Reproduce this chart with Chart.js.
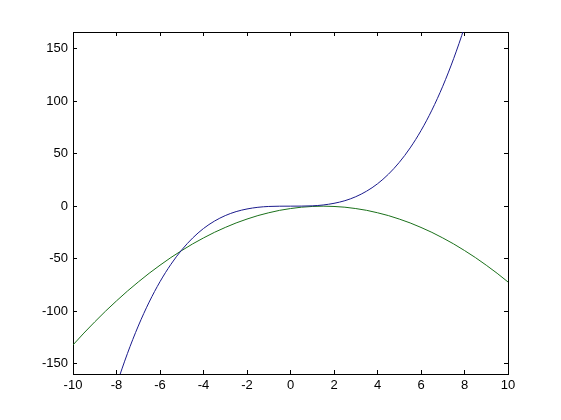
<!DOCTYPE html>
<html>
<head>
<meta charset="utf-8">
<script src="https://cdn.jsdelivr.net/npm/chart.js@4/dist/chart.umd.min.js"></script>
<style>
    html, body { margin: 0; padding: 0; background: #fff; }
    #box { width: 561px; height: 420px; }
</style>
</head>
<body>
<div id="box"><canvas id="plot"></canvas></div>
<script>
let xValues = [-10, -9.5, -9, -8.5, -8, -7.5, -7, -6.5, -6, -5.5, -5, -4.5, -4, -3.5, -3, -2.5, -2, -1.5, -1, -0.5,
    0, 0.5, 1, 1.5, 2, 2.5, 3, 3.5, 4, 4.5, 5, 5.5, 6, 6.5, 7, 7.5, 8, 8.5, 9, 9.5, 10];

// blaue Kurve (geht oben und unten aus dem Bild)
let blueValues = [-333, -286, -243, -205, -170.7, -140.6, -114.3, -91.5, -72, -55.5, -41.7, -30.4, -21.3, -14.3, -9, -5.2, -2.7, -1.1, -0.3, -0.04,
    0, 0.04, 0.3, 1.1, 2.7, 5.2, 9, 14.3, 21.3, 30.4, 41.7, 55.5, 72, 91.5, 114.3, 140.6, 170.7, 205, 243, 286, 333];

// gruene Kurve
let greenValues = [-132.3, -121, -110.3, -100, -90.3, -81, -72.3, -64, -56.3, -49, -42.3, -36, -30.3, -25, -20.3, -16, -12.3, -9, -6.3, -4,
    -2.3, -1, -0.3, 0, -0.3, -1, -2.3, -4, -6.3, -9, -12.3, -16, -20.3, -25, -30.3, -36, -42.3, -49, -56.3, -64, -72.3];

let xTicks = { min: -10, max: 10, step: 2 };
let yTicks = { min: -160, max: 166, step: 50 };


function points(ys) {
    let out = [];
    for (let i = 0; i < xValues.length; i++) {
        out.push({ x: xValues[i], y: ys[i] });
    }
    return out;
}

function axis(pos, range, showLabels, size) {
    let horizontal = pos == 'bottom' || pos == 'top';
    return {
        type: 'linear',
        position: pos,
        min: range.min,
        max: range.max,
        border: { display: true, color: '#000', width: 1 },
        grid: { drawOnChartArea: false, drawTicks: true, tickLength: -4, color: '#000', lineWidth: 1 },
        ticks: {
            display: showLabels,
            stepSize: range.step,
            includeBounds: false,
            autoSkip: false,
            maxRotation: 0,
            color: '#000',
            padding: horizontal ? 8 : 9,
            font: { family: 'Liberation Sans, Arial, sans-serif', size: 13 }
        },
        afterFit: function (scale) {
            if (horizontal) scale.height = size; else scale.width = size;
        }
    };
}

new Chart(document.getElementById('plot'), {
    type: 'line',
    data: {
        datasets: [{
            data: points(blueValues),
            borderColor: '#1a1a8c',
            borderWidth: 1,
            pointRadius: 0,
            cubicInterpolationMode: 'monotone',
            fill: false
        }, {
            data: points(greenValues),
            borderColor: '#1a701a',
            borderWidth: 1,
            pointRadius: 0,
            cubicInterpolationMode: 'monotone',
            fill: false
        }]
    },
    options: {
        responsive: true,
        maintainAspectRatio: false,
        animation: false,
        layout: { padding: { left: 0, top: 32, right: 53, bottom: 0 } },
        plugins: { legend: { display: false }, tooltip: { enabled: false } },
        scales: {
            x: axis('bottom', xTicks, true, 46),
            y: axis('left', yTicks, true, 73),
            x2: axis('top', xTicks, false, 0),
            y2: axis('right', yTicks, false, 0)
        }
    }
});
</script>
</body>
</html>
